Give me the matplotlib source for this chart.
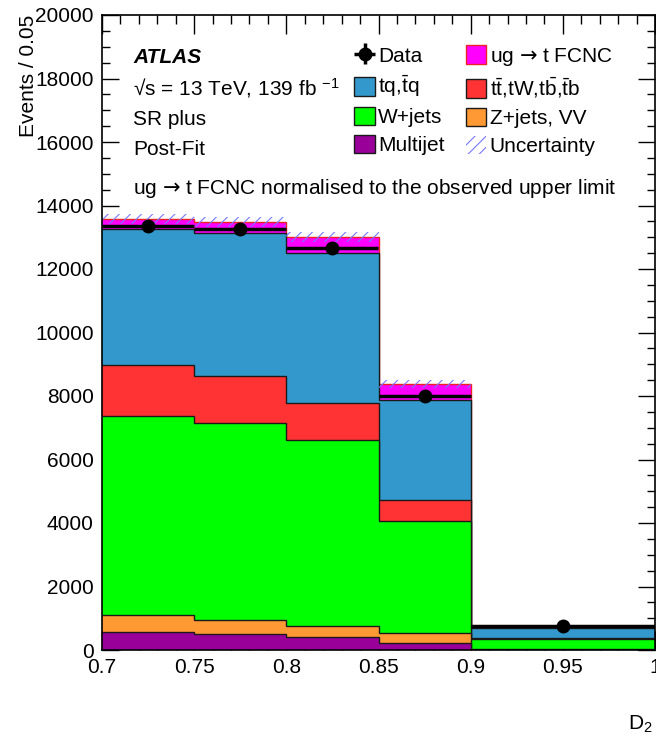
import numpy as np
import matplotlib
matplotlib.use("Agg")
import matplotlib.pyplot as plt
from matplotlib.patches import Patch
from matplotlib.ticker import MultipleLocator

plt.rcParams["font.family"] = ["Liberation Sans", "DejaVu Sans"]
plt.rcParams["mathtext.fontset"] = "custom"
plt.rcParams["mathtext.rm"] = "Liberation Sans"
plt.rcParams["mathtext.sf"] = "DejaVu Sans"
plt.rcParams["mathtext.default"] = "regular"
plt.rcParams["hatch.linewidth"] = 0.8

# ---- data (events / 0.05) ----
bin_edges = [0.7, 0.75, 0.8, 0.85, 0.9, 1.0]
multijet = [580, 500, 410, 220, 5]
zjets_vv = [520, 445, 345, 315, 15]
wjets = [6270, 6205, 5855, 3525, 330]
ttbar = [1610, 1480, 1170, 660, 30]
tq = [4280, 4510, 4720, 3150, 310]
fcnc = [310, 340, 510, 510, 65]
unc = [150, 150, 160, 130, 40]
data = [13350, 13260, 12660, 8000, 770]

ARROW = " $\\mathsf{\u2192}$ "
labels = ["Multijet", "Z+jets, VV", "W+jets",
          r"t$\bar{t}$,tW,t$\bar{b}$,$\bar{t}$b", r"tq,$\bar{t}$q",
          "ug" + ARROW + "t FCNC"]
colors = ["#990099", "#ff9933", "#00ff00", "#ff3333", "#3399cc", "#ff00ff"]
edges = ["#1a1a1a", "#1a1a1a", "#1a1a1a", "#1a1a1a", "#1a1a1a", "#ee2222"]

FS = 15

fig = plt.figure(figsize=(6.56, 7.41), dpi=100)
ax = fig.add_axes([102 / 656, 1 - 650 / 741, 553 / 656, 635 / 741])

lo = np.array(bin_edges[:-1])
widths = np.diff(bin_edges)
centers = lo + widths / 2

# cumulative stack, drawn from the top down (ROOT style)
comps = [multijet, zjets_vv, wjets, ttbar, tq, fcnc]
cum = np.cumsum(np.array(comps, dtype=float), axis=0)
for k in range(len(comps) - 1, -1, -1):
    ax.stairs(cum[k], bin_edges, baseline=0, fill=True, color=colors[k],
              zorder=2 + (len(comps) - k) * 0.01)
    ax.stairs(cum[k], bin_edges, baseline=None, color=edges[k],
              linewidth=1.0, zorder=2 + (len(comps) - k) * 0.01 + 0.005)
total = cum[-1]

# uncertainty band
ax.bar(lo, 2 * np.array(unc), width=widths, bottom=total - np.array(unc),
       align="edge", fill=False, hatch="///", edgecolor="#7777ff",
       linewidth=0, zorder=3)

# data
h_data = ax.errorbar(centers, data, xerr=widths / 2, yerr=np.sqrt(data),
                     fmt="o", color="black", markersize=9, elinewidth=2.5,
                     capsize=0, zorder=5)

ax.set_xlim(0.7, 1.0)
ax.set_ylim(0, 20000)
ax.xaxis.set_minor_locator(MultipleLocator(0.01))
ax.yaxis.set_major_locator(MultipleLocator(2000))
ax.yaxis.set_minor_locator(MultipleLocator(500))
ax.set_xticks([0.7, 0.75, 0.8, 0.85, 0.9, 0.95, 1.0])
ax.set_xticklabels(["0.7", "0.75", "0.8", "0.85", "0.9", "0.95", "1"])
ax.tick_params(which="both", direction="in", top=True, right=True,
               labelsize=FS, width=1.0)
ax.tick_params(axis="x", which="major", length=13.7, pad=6)
ax.tick_params(axis="x", which="minor", length=6.8)
ax.tick_params(axis="y", which="major", length=12, pad=6)
ax.tick_params(axis="y", which="minor", length=6)
for s in ax.spines.values():
    s.set_linewidth(1.2)
    s.set_zorder(6)

ax.set_ylabel("Events / 0.05", fontsize=FS, loc="top")
ax.yaxis.set_label_coords(-0.115, 1.0)
ax.set_xlabel("D$_2$", fontsize=FS, loc="right")
ax.xaxis.set_label_coords(0.995, -0.1)

tx = 0.056
ax.text(tx, 0.924, "ATLAS", transform=ax.transAxes, fontsize=FS,
        fontweight="bold", fontstyle="italic")
ax.text(tx, 0.874, "\u221As = 13 TeV, 139 fb $^{-1}$",
        transform=ax.transAxes, fontsize=FS)
ax.text(tx, 0.827, "SR plus", transform=ax.transAxes, fontsize=FS)
ax.text(tx, 0.78, "Post-Fit", transform=ax.transAxes, fontsize=FS)
ax.text(tx, 0.718, "ug" + ARROW + "t FCNC normalised to the observed upper limit",
        transform=ax.transAxes, fontsize=FS)

# legend
h = {lab: Patch(facecolor=c, edgecolor=ec, linewidth=1.0)
     for lab, c, ec in zip(labels, colors, edges)}
h_unc = Patch(facecolor="none", edgecolor="#7777ff", hatch="///", linewidth=0)
handles = [h_data, h[labels[4]], h[labels[2]], h[labels[0]],
           h[labels[5]], h[labels[3]], h[labels[1]], h_unc]
names = ["Data", labels[4], labels[2], labels[0],
         labels[5], labels[3], labels[1], "Uncertainty"]
ax.legend(handles, names, ncol=2, frameon=False, fontsize=FS,
          loc="upper left", bbox_to_anchor=(0.43, 0.975),
          handlelength=1.0, handleheight=1.0, handletextpad=0.15,
          columnspacing=1.0, labelspacing=0.36, borderpad=0.2)

fig.savefig("out.png", dpi=100)
